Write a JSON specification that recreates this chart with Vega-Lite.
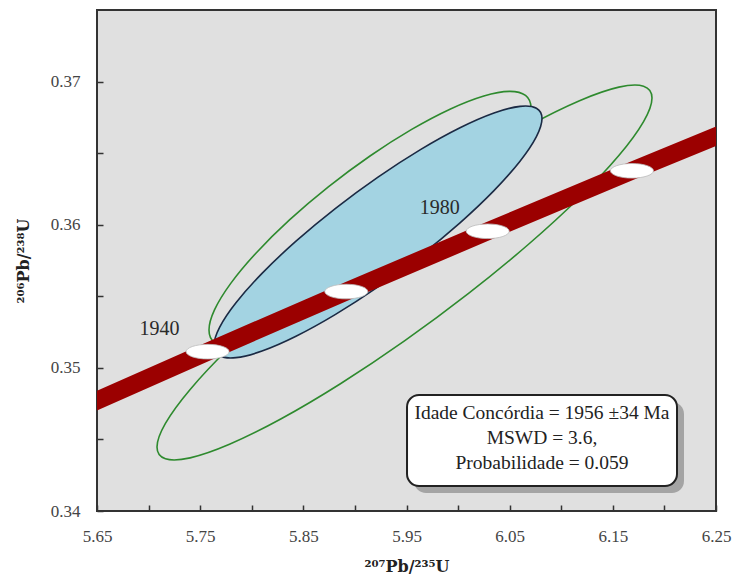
{
  "$schema": "https://vega.github.io/schema/vega-lite/v6.json",
  "autosize": {"type": "none"},
  "width": 619,
  "height": 501,
  "padding": {"left": 97, "top": 10, "right": 16, "bottom": 68},
  "background": "white",
  "config": {
    "view": {"fill": "#e0e0e0", "stroke": "#333333", "strokeWidth": 2},
    "text": {"font": "Liberation Serif"}
  },
  "datasets": {
    "ellipses": [
      {"e": "g2", "k": 0, "x": 6.18796, "y": 0.368853},
      {"e": "g2", "k": 1, "x": 6.17979, "y": 0.369675},
      {"e": "g2", "k": 2, "x": 6.15582, "y": 0.369611},
      {"e": "g2", "k": 3, "x": 6.1177, "y": 0.368663},
      {"e": "g2", "k": 4, "x": 6.06801, "y": 0.366899},
      {"e": "g2", "k": 5, "x": 6.01015, "y": 0.364435},
      {"e": "g2", "k": 6, "x": 5.94806, "y": 0.361443},
      {"e": "g2", "k": 7, "x": 5.88597, "y": 0.358125},
      {"e": "g2", "k": 8, "x": 5.82811, "y": 0.354707},
      {"e": "g2", "k": 9, "x": 5.77842, "y": 0.351423},
      {"e": "g2", "k": 10, "x": 5.7403, "y": 0.348495},
      {"e": "g2", "k": 11, "x": 5.71633, "y": 0.346123},
      {"e": "g2", "k": 12, "x": 5.70816, "y": 0.344471},
      {"e": "g2", "k": 13, "x": 5.71633, "y": 0.343649},
      {"e": "g2", "k": 14, "x": 5.7403, "y": 0.343713},
      {"e": "g2", "k": 15, "x": 5.77842, "y": 0.344661},
      {"e": "g2", "k": 16, "x": 5.82811, "y": 0.346425},
      {"e": "g2", "k": 17, "x": 5.88597, "y": 0.348889},
      {"e": "g2", "k": 18, "x": 5.94806, "y": 0.351881},
      {"e": "g2", "k": 19, "x": 6.01015, "y": 0.355199},
      {"e": "g2", "k": 20, "x": 6.06801, "y": 0.358617},
      {"e": "g2", "k": 21, "x": 6.1177, "y": 0.361901},
      {"e": "g2", "k": 22, "x": 6.15582, "y": 0.364829},
      {"e": "g2", "k": 23, "x": 6.17979, "y": 0.367201},

      {"e": "g1", "k": 0, "x": 6.07068, "y": 0.368155},
      {"e": "g1", "k": 1, "x": 6.06536, "y": 0.36903},
      {"e": "g1", "k": 2, "x": 6.04977, "y": 0.369317},
      {"e": "g1", "k": 3, "x": 6.02497, "y": 0.368996},
      {"e": "g1", "k": 4, "x": 5.99265, "y": 0.368089},
      {"e": "g1", "k": 5, "x": 5.95501, "y": 0.366658},
      {"e": "g1", "k": 6, "x": 5.91462, "y": 0.364801},
      {"e": "g1", "k": 7, "x": 5.87423, "y": 0.362644},
      {"e": "g1", "k": 8, "x": 5.83659, "y": 0.360333},
      {"e": "g1", "k": 9, "x": 5.80427, "y": 0.358028},
      {"e": "g1", "k": 10, "x": 5.77947, "y": 0.355885},
      {"e": "g1", "k": 11, "x": 5.76388, "y": 0.354048},
      {"e": "g1", "k": 12, "x": 5.75856, "y": 0.352645},
      {"e": "g1", "k": 13, "x": 5.76388, "y": 0.35177},
      {"e": "g1", "k": 14, "x": 5.77947, "y": 0.351483},
      {"e": "g1", "k": 15, "x": 5.80427, "y": 0.351804},
      {"e": "g1", "k": 16, "x": 5.83659, "y": 0.352711},
      {"e": "g1", "k": 17, "x": 5.87423, "y": 0.354142},
      {"e": "g1", "k": 18, "x": 5.91462, "y": 0.355999},
      {"e": "g1", "k": 19, "x": 5.95501, "y": 0.358156},
      {"e": "g1", "k": 20, "x": 5.99265, "y": 0.360467},
      {"e": "g1", "k": 21, "x": 6.02497, "y": 0.362772},
      {"e": "g1", "k": 22, "x": 6.04977, "y": 0.364915},
      {"e": "g1", "k": 23, "x": 6.06536, "y": 0.366752},

      {"e": "b", "k": 0, "x": 6.08134, "y": 0.367413},
      {"e": "b", "k": 1, "x": 6.07592, "y": 0.368136},
      {"e": "b", "k": 2, "x": 6.06004, "y": 0.36827},
      {"e": "b", "k": 3, "x": 6.03478, "y": 0.367805},
      {"e": "b", "k": 4, "x": 6.00186, "y": 0.366773},
      {"e": "b", "k": 5, "x": 5.96351, "y": 0.365245},
      {"e": "b", "k": 6, "x": 5.92237, "y": 0.363326},
      {"e": "b", "k": 7, "x": 5.88123, "y": 0.361145},
      {"e": "b", "k": 8, "x": 5.84288, "y": 0.358851},
      {"e": "b", "k": 9, "x": 5.80996, "y": 0.356601},
      {"e": "b", "k": 10, "x": 5.7847, "y": 0.354548},
      {"e": "b", "k": 11, "x": 5.76882, "y": 0.352832},
      {"e": "b", "k": 12, "x": 5.7634, "y": 0.351569},
      {"e": "b", "k": 13, "x": 5.76882, "y": 0.350846},
      {"e": "b", "k": 14, "x": 5.7847, "y": 0.350712},
      {"e": "b", "k": 15, "x": 5.80996, "y": 0.351177},
      {"e": "b", "k": 16, "x": 5.84288, "y": 0.352209},
      {"e": "b", "k": 17, "x": 5.88123, "y": 0.353737},
      {"e": "b", "k": 18, "x": 5.92237, "y": 0.355656},
      {"e": "b", "k": 19, "x": 5.96351, "y": 0.357837},
      {"e": "b", "k": 20, "x": 6.00186, "y": 0.360131},
      {"e": "b", "k": 21, "x": 6.03478, "y": 0.362381},
      {"e": "b", "k": 22, "x": 6.06004, "y": 0.364434},
      {"e": "b", "k": 23, "x": 6.07592, "y": 0.36615}
    ],
    "concordia": [
      {"age": 1910, "x": 5.560479, "y": 0.344859},
      {"age": 1940, "x": 5.757203, "y": 0.351132},
      {"age": 1960, "x": 5.891618, "y": 0.35533},
      {"age": 1980, "x": 6.028709, "y": 0.359542},
      {"age": 2000, "x": 6.168525, "y": 0.363766},
      {"age": 2020, "x": 6.311123, "y": 0.368004}
    ],
    "box": [
      {"x0": 5.9505, "x1": 6.2122, "y0": 0.34175, "y1": 0.3481,
       "cx": 6.0813, "cy": 0.34685,
       "txt": "Idade Concórdia = 1956 ±34 Ma\nMSWD = 3.6,\nProbabilidade = 0.059"}
    ]
  },
  "layer": [
    {
      "data": {"name": "ellipses"},
      "transform": [{"filter": "datum.e == 'g2'"}],
      "mark": {"type": "line", "interpolate": "cardinal-closed", "stroke": "#2e8a2e", "strokeWidth": 1.6, "clip": true},
      "encoding": {
        "x": {"field": "x", "type": "quantitative",
          "scale": {"domain": [5.65, 6.25], "nice": false, "zero": false},
          "axis": {
            "values": [5.65, 5.7, 5.75, 5.8, 5.85, 5.9, 5.95, 6, 6.05, 6.1, 6.15, 6.2, 6.25],
            "labelExpr": "round(datum.value*100) % 10 == 5 ? format(datum.value, '.2f') : ''",
            "domain": false, "grid": false,
            "tickSize": -6, "tickWidth": 1.5, "tickColor": "#333333",
            "labelPadding": 23, "labelFont": "Liberation Serif", "labelFontSize": 17,
            "labelColor": "#444444", "labelFlush": false, "labelOverlap": false,
            "title": "²⁰⁷Pb/²³⁵U", "titleFont": "DejaVu Serif", "titleFontSize": 16,
            "titleFontWeight": "bold", "titleColor": "#222222", "titlePadding": 14
          }},
        "y": {"field": "y", "type": "quantitative",
          "scale": {"domain": [0.34, 0.375], "nice": false, "zero": false},
          "axis": {
            "values": [0.34, 0.345, 0.35, 0.355, 0.36, 0.365, 0.37],
            "labelExpr": "round(datum.value*1000) % 10 == 0 ? format(datum.value, '.2f') : ''",
            "domain": false, "grid": false,
            "tickSize": -6, "tickWidth": 1.5, "tickColor": "#333333",
            "labelPadding": 23, "labelFont": "Liberation Serif", "labelFontSize": 17,
            "labelColor": "#444444", "labelFlush": false, "labelOverlap": false,
            "title": "²⁰⁶Pb/²³⁸U", "titleFont": "DejaVu Serif", "titleFontSize": 16,
            "titleFontWeight": "bold", "titleColor": "#222222", "titlePadding": 19
          }},
        "order": {"field": "k", "type": "quantitative"}
      }
    },
    {
      "data": {"name": "ellipses"},
      "transform": [{"filter": "datum.e == 'g1'"}],
      "mark": {"type": "line", "interpolate": "cardinal-closed", "stroke": "#2e8a2e", "strokeWidth": 1.6, "clip": true},
      "encoding": {
        "x": {"field": "x", "type": "quantitative"},
        "y": {"field": "y", "type": "quantitative"},
        "order": {"field": "k", "type": "quantitative"}
      }
    },
    {
      "data": {"name": "ellipses"},
      "transform": [{"filter": "datum.e == 'b'"}],
      "mark": {"type": "line", "interpolate": "cardinal-closed", "fill": "#a3d3e2", "stroke": "#1b2a44", "strokeWidth": 1.6, "clip": true},
      "encoding": {
        "x": {"field": "x", "type": "quantitative"},
        "y": {"field": "y", "type": "quantitative"},
        "order": {"field": "k", "type": "quantitative"}
      }
    },
    {
      "data": {"name": "concordia"},
      "mark": {"type": "line", "stroke": "#9b0000", "strokeWidth": 18, "strokeCap": "butt", "clip": true},
      "encoding": {
        "x": {"field": "x", "type": "quantitative"},
        "y": {"field": "y", "type": "quantitative"},
        "order": {"field": "age", "type": "quantitative"}
      }
    },
    {
      "data": {"name": "concordia"},
      "transform": [{"filter": "datum.age >= 1940 && datum.age <= 2000"}],
      "mark": {"type": "point", "shape": "M-1,0A1,0.34,0,1,0,1,0A1,0.34,0,1,0,-1,0Z", "size": 1850,
        "filled": true, "fill": "white", "stroke": "#bbbbbb", "strokeWidth": 0.8, "opacity": 1},
      "encoding": {
        "x": {"field": "x", "type": "quantitative"},
        "y": {"field": "y", "type": "quantitative"}
      }
    },
    {
      "data": {"name": "concordia"},
      "transform": [{"filter": "datum.age == 1940 || datum.age == 1980"}],
      "mark": {"type": "text", "font": "Liberation Serif", "fontSize": 20, "color": "#2a2a2a", "dx": -48, "dy": -23},
      "encoding": {
        "x": {"field": "x", "type": "quantitative"},
        "y": {"field": "y", "type": "quantitative"},
        "text": {"field": "age", "type": "nominal"}
      }
    },
    {
      "data": {"name": "box"},
      "mark": {"type": "rect", "cornerRadius": 12, "fill": "#a4a4a4", "xOffset": 7, "x2Offset": 7, "yOffset": 7, "y2Offset": 7},
      "encoding": {
        "x": {"field": "x0", "type": "quantitative"},
        "x2": {"field": "x1"},
        "y": {"field": "y0", "type": "quantitative"},
        "y2": {"field": "y1"}
      }
    },
    {
      "data": {"name": "box"},
      "mark": {"type": "rect", "cornerRadius": 12, "fill": "white", "stroke": "#222222", "strokeWidth": 2},
      "encoding": {
        "x": {"field": "x0", "type": "quantitative"},
        "x2": {"field": "x1"},
        "y": {"field": "y0", "type": "quantitative"},
        "y2": {"field": "y1"}
      }
    },
    {
      "data": {"name": "box"},
      "mark": {"type": "text", "font": "Liberation Serif", "fontSize": 19.5, "color": "#222222",
        "lineBreak": "\n", "lineHeight": 25, "align": "center", "baseline": "middle"},
      "encoding": {
        "x": {"field": "cx", "type": "quantitative"},
        "y": {"field": "cy", "type": "quantitative"},
        "text": {"field": "txt", "type": "nominal"}
      }
    }
  ]
}
